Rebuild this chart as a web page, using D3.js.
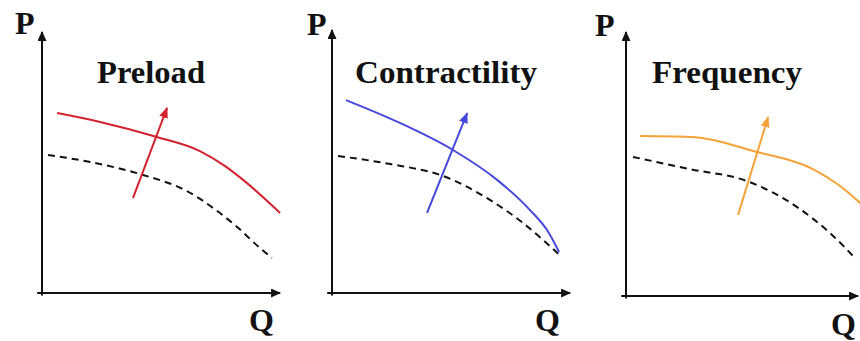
<!DOCTYPE html>
<html><head><meta charset="utf-8"><script src="https://cdn.jsdelivr.net/npm/d3@7"></script></head>
<body style="margin:0;background:#fff">
<svg id="chart" width="860" height="341" style="display:block"></svg>
<script>
// ---- data (Q, P in arbitrary units 0..100) ----
const titles = ["Preload", "Contractility", "Frequency"];
const axisLabels = ["P", "Q"];
const curveColors = ["#d3222f", "#4848dc", "#f5a23a"];

// shifted (coloured) curves
const shiftedQ = [
  [6.3, 24.2, 47.9, 65.8, 76.3, 83.8, 99.2],
  [5.8, 28.3, 50.4, 68.8, 82.5, 89.6, 94.6],
  [5.8, 26.7, 54.6, 77.9, 89.2, 97.5, 103]
];
const shiftedP = [
  [69.2, 65.8, 60.0, 54.6, 48.8, 43.5, 30.8],
  [74.2, 65.4, 55.0, 43.5, 31.9, 24.2, 15.8],
  [61.5, 61.2, 55.4, 48.8, 42.3, 35.8, 30.5]
];

// baseline (dashed) curves
const baseQ = [
  [2.5, 22.1, 42.1, 60.4, 71.3, 81.3, 90.8, 95.8],
  [2.5, 24.2, 46.3, 65.8, 79.6, 95.8],
  [2.9, 26.7, 50.4, 71.3, 86.3, 95.8]
];
const baseP = [
  [53.1, 50.0, 45.4, 39.2, 32.7, 25.4, 17.3, 13.5],
  [52.7, 49.6, 45.0, 35.8, 26.9, 13.8],
  [53.5, 48.8, 44.2, 34.2, 23.1, 14.2]
];

// shift arrows [start, end]
const arrowQ = [[37.9, 52.1], [39.6, 56.3], [46.7, 59.2]];
const arrowP = [[36.5, 71.2], [30.8, 69.2], [31.2, 68.8]];

// ---- layout ----
const panels = [
  { ox: 42,  oy: 293, titleX: 97,  titleW: 108, pX: 15,  pY: 34, qX: 249, qY: 331, xTip: 99.2, yTip: 100.4 },
  { ox: 332, oy: 293, titleX: 355, titleW: 182, pX: 307, pY: 35, qX: 535, qY: 331, xTip: 99.2, yTip: 101.2 },
  { ox: 626, oy: 296, titleX: 652, titleW: 150, pX: 595, pY: 36, qX: 831, qY: 335, xTip: 96.7, yTip: 101.5 }
];
const W = 240, H = 260;

const svg = d3.select("#chart");
const defs = svg.append("defs");

function marker(id, color, len, wid) {
  defs.append("marker")
    .attr("id", id)
    .attr("markerUnits", "userSpaceOnUse")
    .attr("viewBox", `0 ${-wid/2} ${len} ${wid}`)
    .attr("refX", len - 1).attr("refY", 0)
    .attr("markerWidth", len).attr("markerHeight", wid)
    .attr("orient", "auto")
    .append("path")
    .attr("d", `M0,${-wid/2}L${len},0L0,${wid/2}Z`)
    .attr("fill", color);
}
marker("axisHead", "#111", 10, 9);
curveColors.forEach((c, i) => marker("head" + i, c, 11, 9));

const labelData = [];
panels.forEach((pn, i) => {
  labelData.push({ x: pn.titleX, y: 83, t: titles[i], w: pn.titleW });
  labelData.push({ x: pn.pX, y: pn.pY, t: axisLabels[0] });
  labelData.push({ x: pn.qX, y: pn.qY, t: axisLabels[1] });
});

panels.forEach((pn, i) => {
  const x = d3.scaleLinear().domain([0, 100]).range([pn.ox, pn.ox + W]);
  const y = d3.scaleLinear().domain([0, 100]).range([pn.oy, pn.oy - H]);
  const g = svg.append("g");
  const line = d3.line().x(d => x(d[0])).y(d => y(d[1]));
  const smooth = d3.line().x(d => x(d[0])).y(d => y(d[1])).curve(d3.curveMonotoneX);

  g.append("path").attr("d", line([[-2, 0], [pn.xTip, 0]]))
    .attr("stroke", "#111").attr("stroke-width", 2).attr("fill", "none")
    .attr("marker-end", "url(#axisHead)");
  g.append("path").attr("d", line([[0, -1], [0, pn.yTip]]))
    .attr("stroke", "#111").attr("stroke-width", 2).attr("fill", "none")
    .attr("marker-end", "url(#axisHead)");

  g.append("path").attr("d", smooth(d3.zip(baseQ[i], baseP[i])))
    .attr("stroke", "#111").attr("stroke-width", 2).attr("fill", "none")
    .attr("stroke-dasharray", "7,5");

  g.append("path").attr("d", smooth(d3.zip(shiftedQ[i], shiftedP[i])))
    .attr("stroke", curveColors[i]).attr("stroke-width", 2).attr("fill", "none");

  g.append("path").attr("d", line(d3.zip(arrowQ[i], arrowP[i])))
    .attr("stroke", curveColors[i]).attr("stroke-width", 2).attr("fill", "none")
    .attr("marker-end", `url(#head${i})`);
});

svg.selectAll("text.lbl").data(labelData).join("text")
  .attr("class", "lbl")
  .attr("x", d => d.x).attr("y", d => d.y)
  .attr("font-size", 32).attr("font-weight", "bold")
  .attr("font-family", "Liberation Serif")
  .style("font-family", "Liberation Serif")
  .attr("fill", "#111")
  .each(function (d) {
    if (d.w) d3.select(this).attr("textLength", d.w).attr("lengthAdjust", "spacingAndGlyphs");
  })
  .text(d => d.t);
</script>
</body>
</html>
